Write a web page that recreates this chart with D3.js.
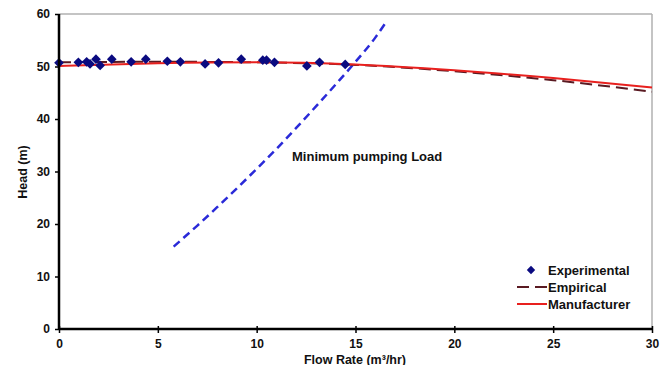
<!DOCTYPE html>
<html><head><meta charset="utf-8">
<script src="https://cdn.jsdelivr.net/npm/d3@7"></script>
<style>body{margin:0;background:#fff}svg{display:block;font-family:"Liberation Sans",Arial,sans-serif}</style>
</head><body><svg id="c" width="671" height="365"></svg>
<script>
const expQ = [0,0.98,1.4,1.57,1.87,2.08,2.67,3.65,4.39,5.48,6.14,7.39,8.07,9.22,10.31,10.5,10.9,12.54,13.18,14.48];
const expH = [50.7,50.8,50.9,50.5,51.4,50.2,51.4,50.9,51.4,51.0,50.9,50.5,50.7,51.4,51.2,51.2,50.8,50.1,50.8,50.4];
const curveQ = [0,5,10,15,20,25,30];
const empiricalH = [50.8,50.9,50.8,50.3,49.1,47.4,45.2];
const manufacturerH = [50.1,50.6,50.8,50.4,49.3,47.8,46.0];
const loadQ = [5.8,7,8,9,10,11,12,13,14,15,16,16.5];
const loadH = [15.7,19.7,23.2,26.8,30.5,34.3,38.3,42.4,46.6,50.9,55.5,58.2];
const xTicks = [0,5,10,15,20,25,30];
const yTicks = [0,10,20,30,40,50,60];

const FONT = "Liberation Sans, Arial, sans-serif";
const svg = d3.select("#c");
const x = d3.scaleLinear().domain([0,30]).range([59,652]);
const y = d3.scaleLinear().domain([0,60]).range([329,14]);

// frame top/right
svg.append("line").attr("x1",59).attr("x2",652).attr("y1",14).attr("y2",14).attr("stroke","#b0b0b0").attr("stroke-width",1.5);
svg.append("line").attr("x1",652).attr("x2",652).attr("y1",14).attr("y2",329).attr("stroke","#b0b0b0").attr("stroke-width",1.5);

const line = d3.line().x(d=>x(d[0])).y(d=>y(d[1])).curve(d3.curveMonotoneX);

svg.append("path").datum(loadQ.map((q,i)=>[q,loadH[i]])).attr("d",line)
  .attr("fill","none").attr("stroke","#2a2ad8").attr("stroke-width",2.5).attr("stroke-dasharray","8,5");
svg.append("path").datum(curveQ.map((q,i)=>[q,empiricalH[i]])).attr("d",line)
  .attr("fill","none").attr("stroke","#5a1a22").attr("stroke-width",2).attr("stroke-dasharray","12,6");
svg.append("path").datum(curveQ.map((q,i)=>[q,manufacturerH[i]])).attr("d",line)
  .attr("fill","none").attr("stroke","#e8201e").attr("stroke-width",2);

const diamond = d3.symbol().type(d3.symbolDiamond2).size(60);
svg.append("g").selectAll("path").data(expQ.map((q,i)=>[q,expH[i]])).join("path")
  .attr("d",diamond).attr("transform",d=>`translate(${x(d[0])},${y(d[1])})`).attr("fill","#0a0a80");

// axes
const ax = svg.append("g").attr("transform","translate(0,329)")
  .call(d3.axisBottom(x).tickValues(xTicks).tickSize(4).tickPadding(6));
ax.selectAll(".tick line").attr("y1",-3).attr("y2",4).attr("stroke","#000").attr("stroke-width",1.5);
ax.select(".domain").attr("stroke","#000").attr("stroke-width",2.5).attr("d","M59,0H652");
ax.selectAll("text").attr("font-size",12).attr("font-weight","bold").attr("fill","#111").attr("font-family",FONT);

const ay = svg.append("g").attr("transform","translate(59,0)")
  .call(d3.axisLeft(y).tickValues(yTicks).tickSize(4).tickPadding(5));
ay.selectAll(".tick line").attr("stroke","#000").attr("stroke-width",1.5);
ay.select(".domain").attr("stroke","#000").attr("stroke-width",2.5).attr("d","M0,14V329");
ay.selectAll("text").attr("font-size",12).attr("font-weight","bold").attr("fill","#111").attr("font-family",FONT);

svg.append("text").attr("x",355).attr("y",363.5).attr("text-anchor","middle")
  .attr("font-size",12.5).attr("font-weight","bold").attr("fill","#111").text("Flow Rate (m³/hr)");
svg.append("text").attr("transform","translate(27,172) rotate(-90)").attr("text-anchor","middle")
  .attr("font-size",12.5).attr("font-weight","bold").attr("fill","#111").text("Head (m)");

svg.append("text").attr("x",292).attr("y",161).attr("font-size",13).attr("font-weight","bold")
  .attr("fill","#111").text("Minimum pumping Load");

// legend
const lg = svg.append("g");
lg.append("path").attr("d",d3.symbol().type(d3.symbolDiamond2).size(45)).attr("transform","translate(531,270)").attr("fill","#0a0a80");
lg.append("line").attr("x1",517).attr("x2",547).attr("y1",287).attr("y2",287).attr("stroke","#5a1a22").attr("stroke-width",2).attr("stroke-dasharray","12,6");
lg.append("line").attr("x1",517).attr("x2",547).attr("y1",304).attr("y2",304).attr("stroke","#e8201e").attr("stroke-width",2);
[["Experimental",274.5],["Empirical",291.5],["Manufacturer",308.5]].forEach(d=>{
  lg.append("text").attr("x",548).attr("y",d[1]).attr("font-size",13).attr("font-weight","bold").attr("fill","#111").text(d[0]);
});
</script></body></html>
